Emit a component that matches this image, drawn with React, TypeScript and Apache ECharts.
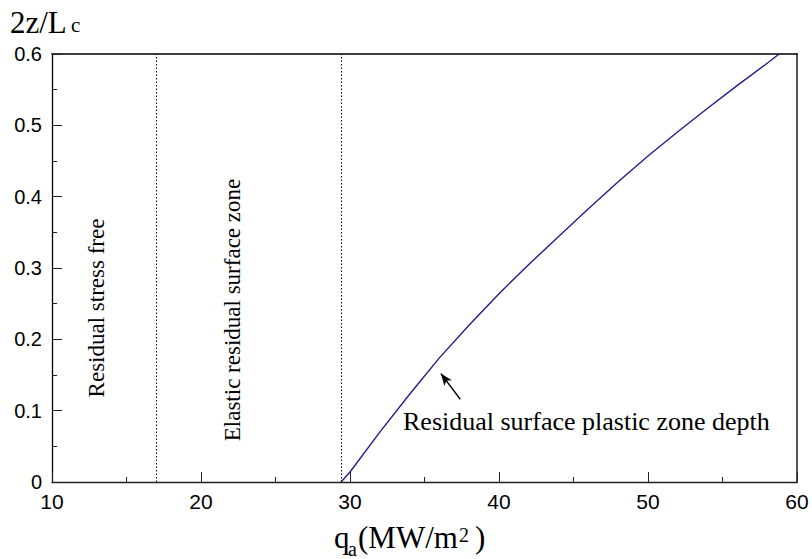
import React, { useEffect, useRef } from "react";
import * as echarts from "echarts";

// Heat flux q_a (MW/m^2) and normalised residual plastic depth 2z/Lc
const heatFlux = [29.4, 30, 32, 34, 36, 38, 40, 42, 44, 46, 48, 50, 52, 54, 56, 58, 58.8];
const plasticDepth = [0, 0.014, 0.07, 0.123, 0.174, 0.22, 0.264, 0.305, 0.344, 0.383, 0.421, 0.457, 0.491, 0.524, 0.556, 0.587, 0.6];

// Boundaries between the zones
const zoneBounds = [17, 29.4];

// Arrow pointing at the curve (tail, head)
const arrowTail = [37.4, 0.116];
const arrowHead = [36.1, 0.152];

const xTicks = { min: 10, max: 60, interval: 10 };
const yTicks = { min: 0, max: 0.6, interval: 0.1 };

const SERIF = '"Liberation Serif", "Times New Roman", serif';
const SANS = '"Liberation Sans", Arial, sans-serif';

export default function App() {
  const ref = useRef<HTMLDivElement>(null);

  useEffect(() => {
    if (!ref.current) return;
    const chart = echarts.init(ref.current, null, { renderer: "svg" });

    const curve = heatFlux.map((x, i) => [x, plasticDepth[i]]);

    const serifText = (text: string, x: number, y: number, size: number, extra: any = {}) => ({
      type: "text",
      x,
      y,
      silent: true,
      ...extra,
      style: {
        text,
        fontFamily: SERIF,
        fontSize: size,
        fill: "#000",
        align: "left",
        verticalAlign: "middle",
        ...(extra.style || {}),
      },
    });

    chart.setOption({
      animation: false,
      backgroundColor: "#fff",
      grid: { left: 52, right: 15, top: 54, bottom: 77, containLabel: false },
      xAxis: [
        {
          type: "value",
          ...xTicks,
          position: "bottom",
          axisLine: { show: true, onZero: false, lineStyle: { color: "#222", width: 1.3 } },
          axisTick: { show: true, inside: true, length: 10, lineStyle: { color: "#222", width: 1 } },
          minorTick: { show: true, splitNumber: 2, length: 5, lineStyle: { color: "#222", width: 1 } },
          splitLine: { show: false },
          axisLabel: { color: "#000", fontFamily: SANS, fontSize: 21, margin: 9 },
        },
        {
          type: "value",
          ...xTicks,
          position: "top",
          axisLine: { show: true, onZero: false, lineStyle: { color: "#000", width: 1.5 } },
          axisTick: { show: false },
          axisLabel: { show: false },
          splitLine: { show: false },
        },
      ],
      yAxis: [
        {
          type: "value",
          ...yTicks,
          position: "left",
          axisLine: { show: true, onZero: false, lineStyle: { color: "#000", width: 1.3 } },
          axisTick: { show: true, inside: true, length: 10, lineStyle: { color: "#222", width: 1 } },
          minorTick: { show: true, splitNumber: 2, length: 5, lineStyle: { color: "#222", width: 1 } },
          splitLine: { show: false },
          axisLabel: {
            color: "#000",
            fontFamily: SANS,
            fontSize: 20,
            margin: 10,
            formatter: (v: number) => (v === 0 ? "0" : v.toFixed(1)),
          },
        },
        {
          type: "value",
          ...yTicks,
          position: "right",
          axisLine: { show: true, onZero: false, lineStyle: { color: "#555", width: 2 } },
          axisTick: { show: false },
          axisLabel: { show: false },
          splitLine: { show: false },
        },
      ],
      series: [
        {
          type: "line",
          data: curve,
          showSymbol: false,
          smooth: false,
          lineStyle: { color: "#1e1e8c", width: 1.4 },
          silent: true,
          markLine: {
            silent: true,
            symbol: ["none", "none"],
            label: { show: false },
            data: [
              ...zoneBounds.map((x) => ({
                xAxis: x,
                lineStyle: { color: "#000", width: 1, type: [1.5, 2] },
              })),
              [
                { coord: arrowTail, symbol: "none" },
                {
                  coord: arrowHead,
                  symbol: "arrow",
                  symbolSize: [7, 12],
                  lineStyle: { color: "#000", width: 1.4, type: "solid" },
                },
              ],
            ],
            lineStyle: { color: "#000", width: 1.4, type: "solid" },
          },
        },
      ],
      graphic: [
        // y-axis title: 2z/Lc
        serifText("2z/L", 10, 22, 31),
        serifText("c", 71, 25, 21),
        // x-axis title: qa(MW/m2)
        serifText("q", 334, 537, 31),
        serifText("a", 348, 549, 20),
        serifText("(MW/m", 358, 537, 31),
        serifText("2", 459, 535, 20),
        serifText(")", 475, 537, 31),
        // zone labels (rotated)
        serifText("Residual stress free", 96, 308, 23, {
          rotation: Math.PI / 2,
          style: { align: "center" },
        }),
        serifText("Elastic residual surface zone", 232, 310, 23, {
          rotation: Math.PI / 2,
          style: { align: "center" },
        }),
        // curve annotation
        serifText("Residual surface plastic zone depth", 403, 421, 26),
      ],
    });

    return () => chart.dispose();
  }, []);

  return (
    <div
      ref={ref}
      style={{ position: "absolute", left: 0, top: 0, width: 812, height: 559 }}
    />
  );
}
